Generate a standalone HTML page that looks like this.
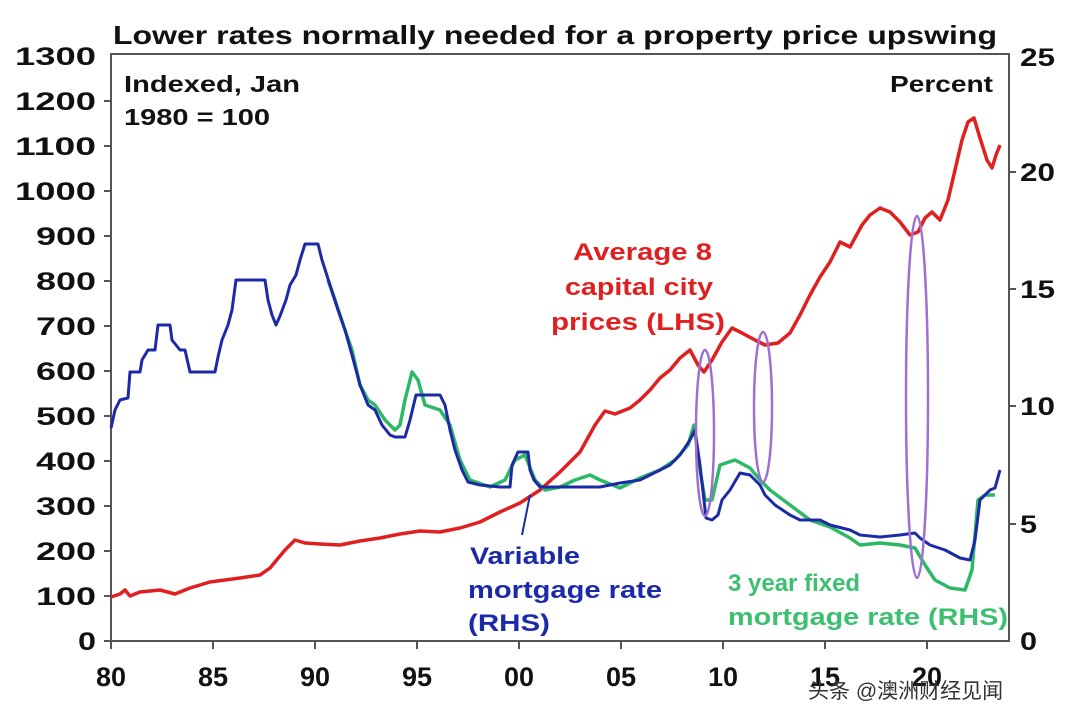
<!DOCTYPE html>
<html><head><meta charset="utf-8"><style>
body{margin:0;background:#fff;}
svg text{font-family:"Liberation Sans",Arial,sans-serif;font-weight:bold;}
</style></head><body>
<svg width="1080" height="716" viewBox="0 0 1080 716" xmlns="http://www.w3.org/2000/svg">
<rect width="1080" height="716" fill="#fff"/>
<text x="113" y="44" font-size="26" textLength="884" lengthAdjust="spacingAndGlyphs" fill="#111">Lower rates normally needed for a property price upswing</text>
<rect x="111" y="54" width="898" height="587" fill="none" stroke="#555" stroke-width="2"/>
<g font-size="25" fill="#111" text-anchor="end">
<text x="96" y="650" textLength="18" lengthAdjust="spacingAndGlyphs">0</text>
<text x="96" y="605" textLength="60" lengthAdjust="spacingAndGlyphs">100</text>
<text x="96" y="560" textLength="60" lengthAdjust="spacingAndGlyphs">200</text>
<text x="96" y="515" textLength="60" lengthAdjust="spacingAndGlyphs">300</text>
<text x="96" y="470" textLength="60" lengthAdjust="spacingAndGlyphs">400</text>
<text x="96" y="425" textLength="60" lengthAdjust="spacingAndGlyphs">500</text>
<text x="96" y="380" textLength="60" lengthAdjust="spacingAndGlyphs">600</text>
<text x="96" y="335" textLength="60" lengthAdjust="spacingAndGlyphs">700</text>
<text x="96" y="290" textLength="60" lengthAdjust="spacingAndGlyphs">800</text>
<text x="96" y="245" textLength="60" lengthAdjust="spacingAndGlyphs">900</text>
<text x="96" y="200" textLength="81" lengthAdjust="spacingAndGlyphs">1000</text>
<text x="96" y="155" textLength="81" lengthAdjust="spacingAndGlyphs">1100</text>
<text x="96" y="110" textLength="81" lengthAdjust="spacingAndGlyphs">1200</text>
<text x="96" y="65" textLength="81" lengthAdjust="spacingAndGlyphs">1300</text>
</g>
<g stroke="#555" stroke-width="2">
<line x1="104" y1="641" x2="111" y2="641"/><line x1="104" y1="596" x2="111" y2="596"/><line x1="104" y1="551" x2="111" y2="551"/><line x1="104" y1="506" x2="111" y2="506"/><line x1="104" y1="461" x2="111" y2="461"/><line x1="104" y1="416" x2="111" y2="416"/><line x1="104" y1="371" x2="111" y2="371"/><line x1="104" y1="326" x2="111" y2="326"/><line x1="104" y1="281" x2="111" y2="281"/><line x1="104" y1="236" x2="111" y2="236"/><line x1="104" y1="191" x2="111" y2="191"/><line x1="104" y1="146" x2="111" y2="146"/><line x1="104" y1="101" x2="111" y2="101"/>
<line x1="1009" y1="524" x2="1016" y2="524"/><line x1="1009" y1="406" x2="1016" y2="406"/><line x1="1009" y1="289" x2="1016" y2="289"/><line x1="1009" y1="172" x2="1016" y2="172"/>
<line x1="111" y1="641" x2="111" y2="649"/><line x1="213" y1="641" x2="213" y2="649"/><line x1="315" y1="641" x2="315" y2="649"/><line x1="417" y1="641" x2="417" y2="649"/><line x1="519" y1="641" x2="519" y2="649"/><line x1="621" y1="641" x2="621" y2="649"/><line x1="723" y1="641" x2="723" y2="649"/><line x1="825" y1="641" x2="825" y2="649"/><line x1="927" y1="641" x2="927" y2="649"/>
</g>
<g font-size="25" fill="#111">
<text x="1020" y="650" textLength="17" lengthAdjust="spacingAndGlyphs">0</text>
<text x="1020" y="533" textLength="17" lengthAdjust="spacingAndGlyphs">5</text>
<text x="1020" y="415" textLength="35" lengthAdjust="spacingAndGlyphs">10</text>
<text x="1020" y="298" textLength="35" lengthAdjust="spacingAndGlyphs">15</text>
<text x="1020" y="181" textLength="35" lengthAdjust="spacingAndGlyphs">20</text>
<text x="1020" y="66" textLength="35" lengthAdjust="spacingAndGlyphs">25</text>
</g>
<g font-size="27" fill="#111" text-anchor="middle">
<text x="111" y="686">80</text><text x="213" y="686">85</text><text x="315" y="686">90</text><text x="417" y="686">95</text><text x="519" y="686">00</text><text x="621" y="686">05</text><text x="723" y="686">10</text><text x="825" y="686">15</text><text x="927" y="686">20</text>
</g>
<text x="124" y="92" font-size="23" fill="#111" textLength="176" lengthAdjust="spacingAndGlyphs">Indexed, Jan</text>
<text x="124" y="125" font-size="23" fill="#111" textLength="146" lengthAdjust="spacingAndGlyphs">1980 = 100</text>
<text x="890" y="92" font-size="23" fill="#111" textLength="103" lengthAdjust="spacingAndGlyphs">Percent</text>
<g fill="none" stroke-width="3.5" stroke-linejoin="round">
<polyline stroke="#e02020" points="111,597 120,594 125,590 130,596 140,592 160,590 175,594 190,588 210,582 240,578 260,575 270,568 285,550 295,540 305,543 320,544 340,545 360,541 380,538 400,534 420,531 440,532 460,528 480,522 500,512 520,503 540,490 560,472 580,452 595,425 605,411 615,414 630,408 640,400 650,390 660,378 670,370 680,358 690,350 698,365 704,372 712,360 722,342 732,328 742,333 755,340 765,345 778,343 790,333 800,315 810,295 820,277 830,262 840,242 850,247 862,225 870,215 880,208 890,212 900,222 910,235 918,232 925,218 932,212 940,220 948,200 955,170 962,140 968,122 974,118 980,138 987,160 992,168 996,155 1000,145"/>
<polyline stroke="#2db865" points="328,280 335,300 345,330 352,350 360,385 368,400 375,405 385,420 395,430 400,425 405,400 412,372 418,380 425,405 440,410 450,425 460,460 470,480 490,487 505,480 515,460 525,455 535,480 545,490 560,487 575,480 590,475 600,480 620,488 640,478 660,470 675,460 688,445 694,425 700,470 705,500 712,500 720,465 735,460 750,468 760,480 770,490 790,505 810,520 830,527 850,538 860,545 880,543 900,545 915,548 925,565 935,580 950,588 965,590 972,570 978,500 985,495 995,495"/>
<polyline stroke="#1c2aa8" stroke-width="3" points="111,428 115,410 120,400 128,398 130,372 140,372 142,360 148,350 155,350 158,325 170,325 172,340 180,350 185,350 190,372 215,372 218,357 222,340 228,325 232,310 236,280 265,280 268,300 272,315 276,325 280,316 286,300 290,285 296,275 300,260 305,244 318,244 322,260 330,285 338,310 345,330 352,355 360,385 368,405 375,410 382,425 390,435 395,437 405,437 410,420 416,395 440,395 445,405 450,430 455,450 462,470 468,482 480,485 500,487 510,487 512,465 518,452 528,452 530,470 534,480 540,487 560,487 575,487 600,487 620,483 640,480 650,475 660,470 670,465 680,455 690,440 695,430 700,465 706,518 712,520 718,515 722,500 730,490 740,473 750,475 760,485 765,495 775,505 790,515 800,520 820,520 830,525 850,530 860,535 880,537 900,535 915,533 920,538 930,545 945,550 960,558 970,560 975,540 980,500 985,495 990,490 995,488 1000,470"/>
</g>
<g fill="none" stroke="#a070d0" stroke-width="2.5">
<ellipse cx="705" cy="433" rx="9" ry="83"/>
<ellipse cx="763" cy="407" rx="9" ry="75"/>
<ellipse cx="917" cy="397" rx="11" ry="181"/>
</g>
<line x1="522" y1="535" x2="530" y2="495" stroke="#1c2aa8" stroke-width="2"/>
<g font-size="24" font-weight="bold">
<text x="573" y="260" fill="#e02020" textLength="139" lengthAdjust="spacingAndGlyphs">Average 8</text>
<text x="565" y="295" fill="#e02020" textLength="148" lengthAdjust="spacingAndGlyphs">capital city</text>
<text x="551" y="330" fill="#e02020" textLength="174" lengthAdjust="spacingAndGlyphs">prices (LHS)</text>
<text x="470" y="564" fill="#1c2aa8" textLength="110" lengthAdjust="spacingAndGlyphs">Variable</text>
<text x="468" y="598" fill="#1c2aa8" textLength="194" lengthAdjust="spacingAndGlyphs">mortgage rate</text>
<text x="468" y="631" fill="#1c2aa8" textLength="82" lengthAdjust="spacingAndGlyphs">(RHS)</text>
<text x="728" y="591" fill="#3cc070" font-size="24">3 year fixed</text>
<text x="728" y="625" fill="#3cc070" textLength="280" lengthAdjust="spacingAndGlyphs">mortgage rate (RHS)</text>
</g>
<text x="808" y="698" font-size="21" fill="#333" style="font-family:'Liberation Sans','Noto Sans CJK SC',sans-serif;font-weight:normal">头条 @澳洲财经见闻</text>
</svg>
</body></html>
